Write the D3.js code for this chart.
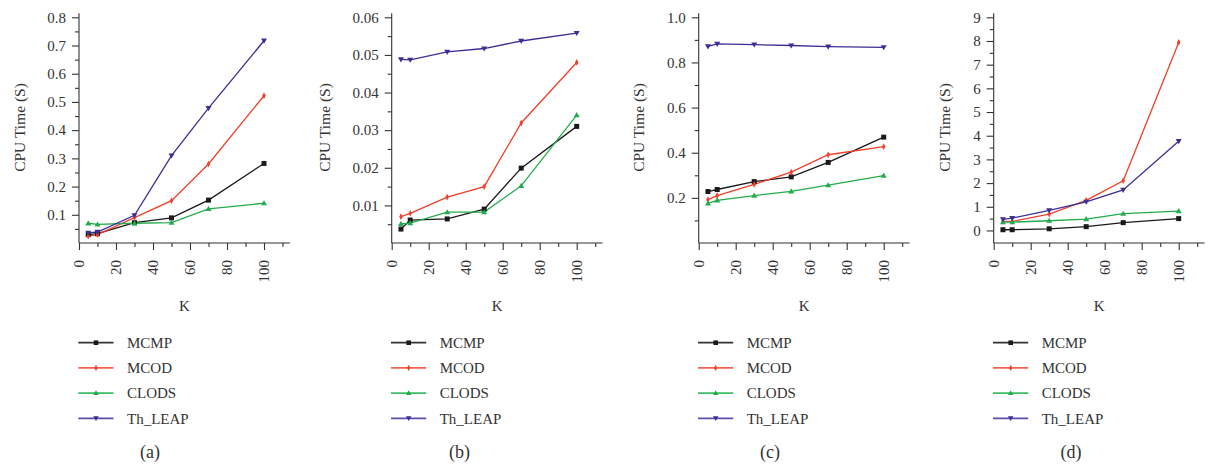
<!DOCTYPE html>
<html>
<head>
<meta charset="utf-8">
<script src="https://cdn.jsdelivr.net/npm/d3@7"></script>
<style>
  html, body { margin: 0; padding: 0; background: #fff; }
  svg { display: block; }
</style>
</head>
<body>
<svg id="chart" width="1208" height="466"></svg>
<script>
// K values on the x axis
const kValues = [5, 10, 30, 50, 70, 100];
const seriesNames = ["MCMP", "MCOD", "CLODS", "Th_LEAP"];
const panelLabels = ["(a)", "(b)", "(c)", "(d)"];

// CPU time (s) per panel, rows in seriesNames order
const cpuA = [
  [0.030, 0.033, 0.072, 0.089, 0.152, 0.282],
  [0.024, 0.030, 0.090, 0.150, 0.280, 0.522],
  [0.070, 0.066, 0.070, 0.072, 0.121, 0.141],
  [0.036, 0.039, 0.098, 0.310, 0.478, 0.717]
];
const cpuB = [
  [0.0037, 0.0061, 0.0064, 0.0090, 0.0199, 0.0310],
  [0.0070, 0.0079, 0.0122, 0.0150, 0.0319, 0.0480],
  [0.0051, 0.0053, 0.0082, 0.0082, 0.0152, 0.0340],
  [0.0488, 0.0487, 0.0508, 0.0517, 0.0537, 0.0558]
];
const cpuC = [
  [0.228, 0.237, 0.272, 0.293, 0.357, 0.469],
  [0.192, 0.210, 0.260, 0.314, 0.391, 0.427],
  [0.176, 0.189, 0.210, 0.229, 0.256, 0.299],
  [0.871, 0.882, 0.879, 0.875, 0.870, 0.867]
];
const cpuD = [
  [0.03, 0.03, 0.07, 0.16, 0.33, 0.50],
  [0.38, 0.38, 0.69, 1.27, 2.10, 7.94],
  [0.35, 0.35, 0.41, 0.48, 0.71, 0.82],
  [0.47, 0.52, 0.85, 1.21, 1.71, 3.77]
];

// y tick labels per panel
const yTicksA = [0.1, 0.2, 0.3, 0.4, 0.5, 0.6, 0.7, 0.8];
const yTicksB = [0.01, 0.02, 0.03, 0.04, 0.05, 0.06];
const yTicksC = [0.2, 0.4, 0.6, 0.8, 1.0];
const yTicksD = [0, 1, 2, 3, 4, 5, 6, 7, 8, 9];
const xTicks = [0, 20, 40, 60, 80, 100];

// styling
const FONT = "'Liberation Serif', 'DejaVu Serif', serif";
const colors = ["#1a1a1a", "#f0402a", "#22ad4c", "#3b2f96"];
const legendColors = ["#333333", "#f2644f", "#3cbd63", "#5a50a8"];
const shapes = ["square", "diamond", "triangleUp", "triangleDown"];

// panel layout: y-axis x-position, y-domain, minor step, title offset, format
const panels = [
  { data: cpuA, ticks: yTicksA, minor: 0.05, lo: 0, top: 0.8, fmt: ".1f", x0: 79, titleX: 20, labelX: 150 },
  { data: cpuB, ticks: yTicksB, minor: 0.005, lo: 0, top: 0.06, fmt: ".2f", x0: 391.7, titleX: 325, labelX: 459.5 },
  { data: cpuC, ticks: yTicksC, minor: 0.1, lo: 0, top: 1.0, fmt: ".1f", x0: 698.7, titleX: 638.5, labelX: 770 },
  { data: cpuD, ticks: yTicksD, minor: 0.5, lo: -0.53, top: 9, fmt: "d", x0: 993.7, titleX: 945, labelX: 1071 }
];

const svg = d3.select("#chart");
const axisY = 243;      // baseline of plot
const topTickY = 17.3;  // y of highest labelled tick
const axisTopY = 13.3;  // top end of vertical axis line
const xUnit = 1.85;     // px per K unit
const xMax = 114;

function markerPath(shape, r) {
  switch (shape) {
    case "square":
      return `M${-r},${-r}H${r}V${r}H${-r}Z`;
    case "diamond":
      return `M0,${-r * 1.35}L${r * 0.7},0L0,${r * 1.35}L${-r * 0.7},0Z`;
    case "triangleUp":
      return `M0,${-r * 1.2}L${r * 1.2},${r * 0.85}L${-r * 1.2},${r * 0.85}Z`;
    case "triangleDown":
      return `M0,${r * 1.2}L${r * 1.2},${-r * 0.85}L${-r * 1.2},${-r * 0.85}Z`;
  }
}

panels.forEach((p, pi) => {
  const g = svg.append("g");
  const x = d3.scaleLinear().domain([0, xMax]).range([p.x0, p.x0 + xMax * xUnit]);
  const y = d3.scaleLinear().domain([p.lo, p.top]).range([axisY, topTickY]);

  // axis lines
  g.append("line").attr("x1", p.x0).attr("x2", p.x0).attr("y1", axisY).attr("y2", axisTopY)
    .attr("stroke", "#333").attr("stroke-width", 1.1);
  g.append("line").attr("x1", p.x0).attr("x2", x(xMax)).attr("y1", axisY).attr("y2", axisY)
    .attr("stroke", "#333").attr("stroke-width", 1.1);

  // y axis ticks and labels
  const yMinor = d3.range(p.minor, p.top, p.minor * 2);
  const gy = g.append("g").attr("transform", `translate(${p.x0},0)`)
    .call(d3.axisLeft(y).tickValues(p.ticks).tickSize(7).tickPadding(6)
      .tickFormat(d3.format(p.fmt)));
  gy.select(".domain").remove();
  gy.selectAll(".tick line").attr("stroke", "#333").attr("stroke-width", 1.1);
  gy.selectAll(".tick text").attr("font-size", 15).attr("fill", "#333");
  const gyMinor = g.append("g").attr("transform", `translate(${p.x0},0)`)
    .call(d3.axisLeft(y).tickValues(yMinor).tickSize(4).tickFormat(""));
  gyMinor.select(".domain").remove();
  gyMinor.selectAll(".tick line").attr("stroke", "#333").attr("stroke-width", 1.1);

  // x axis ticks and rotated labels
  const gx = g.append("g").attr("transform", `translate(0,${axisY})`)
    .call(d3.axisBottom(x).tickValues(xTicks).tickSize(7).tickFormat(""));
  gx.select(".domain").remove();
  gx.selectAll(".tick line").attr("stroke", "#333").attr("stroke-width", 1.1);
  const gxMinor = g.append("g").attr("transform", `translate(0,${axisY})`)
    .call(d3.axisBottom(x).tickValues(d3.range(10, xMax, 20)).tickSize(4).tickFormat(""));
  gxMinor.select(".domain").remove();
  gxMinor.selectAll(".tick line").attr("stroke", "#333").attr("stroke-width", 1.1);
  g.selectAll(".xlab").data(xTicks).enter().append("text")
    .attr("transform", d => `translate(${x(d)},${axisY + 17}) rotate(-90)`)
    .attr("text-anchor", "end").attr("dy", "0.35em")
    .attr("font-size", 15).text(d => d);

  // axis titles
  g.append("text").attr("x", x(xMax / 2)).attr("y", 311).attr("text-anchor", "middle")
    .attr("font-size", 15).text("K");
  g.append("text").attr("transform", `translate(${p.titleX},127.5) rotate(-90)`)
    .attr("text-anchor", "middle").attr("dy", "0.35em").attr("font-size", 15.5)
    .text("CPU Time (S)");

  // series lines and markers
  const line = d3.line().x((d, i) => x(kValues[i])).y(d => y(d));
  p.data.forEach((vals, si) => {
    g.append("path").datum(vals).attr("d", line).attr("fill", "none")
      .attr("stroke", colors[si]).attr("stroke-width", 1.3);
  });
  p.data.forEach((vals, si) => {
    g.selectAll(null).data(vals).enter().append("path")
      .attr("transform", (d, i) => `translate(${x(kValues[i])},${y(d)})`)
      .attr("d", markerPath(shapes[si], 2.5)).attr("fill", colors[si]);
  });

  // legend
  const lg = g.append("g");
  seriesNames.forEach((name, si) => {
    const ly = 342.7 + si * 25.2;
    lg.append("line").attr("x1", p.x0 - 0.7).attr("x2", p.x0 + 34.5).attr("y1", ly).attr("y2", ly)
      .attr("stroke", legendColors[si]).attr("stroke-width", 1.8);
    lg.append("path").attr("transform", `translate(${p.x0 + 17},${ly})`)
      .attr("d", markerPath(shapes[si], 2.3)).attr("fill", colors[si]);
    lg.append("text").attr("x", p.x0 + 48).attr("y", ly).attr("dy", "0.35em")
      .attr("font-size", 15).text(name);
  });

  // panel label
  g.append("text").attr("x", p.labelX).attr("y", 451.7).attr("dy", "0.35em")
    .attr("text-anchor", "middle").attr("font-size", 18).text(panelLabels[pi]);
});

// one serif face for every label
svg.selectAll("text").style("font-family", FONT).style("fill", "#333");
</script>
</body>
</html>
